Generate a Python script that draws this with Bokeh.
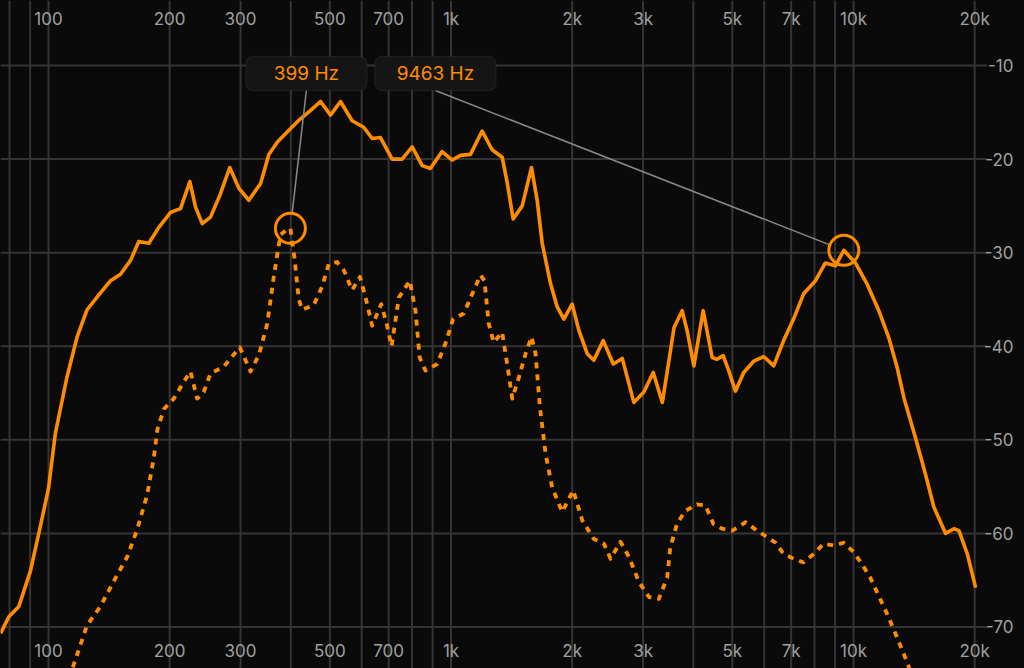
import numpy as np
from bokeh.plotting import figure
from bokeh.models import Range1d, BoxAnnotation
from bokeh.core.properties import value
from bokeh.embed import file_html
from bokeh.resources import INLINE

# ---------------- data ----------------
solid_freq = [76, 79.7, 84.4, 90.2, 95.5, 100, 104, 111, 117.8, 124.7, 134.6, 142.6, 151, 160,
              167.6, 177.5, 188, 201, 212.8, 224.5, 231.8, 241, 252.6, 267.5, 282, 297, 314.6,
              336.5, 352.7, 370, 391.7, 420, 448, 474, 502, 531.5, 568, 607, 637, 668, 714, 756,
              801, 848, 889, 950, 1007, 1056, 1118, 1195, 1265, 1340, 1379, 1427, 1503, 1585,
              1637, 1685, 1767, 1836, 1907, 2000, 2078, 2180, 2264, 2389, 2530, 2664, 2846, 3014,
              3180, 3350, 3480, 3582, 3753, 3863, 4012, 4231, 4455, 4583, 4744, 4898, 5090, 5336,
              5650, 5983, 6336, 6703, 7098, 7516, 8046, 8511, 9015, 9463, 10110, 10820, 11560,
              12240, 12840, 13340, 14260, 15100, 15840, 16940, 17760, 18280, 19180, 20110]
solid_db = [-70.7, -68.9, -67.8, -64.0, -59.2, -55.2, -49.3, -43.4, -39.0, -36.1, -34.3, -33.0,
            -32.3, -30.8, -28.8, -29.0, -27.3, -25.7, -25.3, -22.4, -25.1, -26.9, -26.2, -23.7,
            -20.9, -23.1, -24.4, -22.6, -19.5, -18.2, -17.1, -15.8, -14.8, -13.85, -15.3, -13.85,
            -15.9, -16.6, -17.8, -17.7, -20.0, -20.0, -18.7, -20.7, -21.0, -19.2, -20.1, -19.6,
            -19.5, -17.0, -19.0, -19.8, -22.5, -26.4, -25.0, -20.9, -24.4, -29.0, -33.3, -35.8,
            -37.1, -35.5, -38.3, -40.8, -41.5, -39.4, -41.9, -41.3, -46.0, -44.9, -42.8, -46.0,
            -41.5, -38.0, -36.2, -38.4, -42.1, -36.2, -41.2, -41.4, -41.0, -42.6, -44.8, -42.8,
            -41.6, -41.1, -42.1, -39.4, -37.1, -34.4, -33.0, -31.1, -31.4, -29.75, -31.1, -33.4,
            -36.2, -39.1, -42.3, -45.5, -49.8, -53.7, -57.2, -60.0, -59.5, -59.7, -62.2, -65.8]

dotted_freq = [112, 115.6, 124.7, 134.6, 145.3, 156.9, 166, 175.8, 182.7, 186.4, 193.6, 204.8,
               216.8, 225.3, 234, 243, 252.6, 272.4, 298.7, 317.6, 333.5, 349.5, 363, 377, 392,
               399, 408.5, 418.6, 427, 456, 478.6, 497, 521, 542, 568, 594, 613.5, 637, 671, 692,
               712, 742, 790, 816, 836, 864, 924, 969, 1012, 1076, 1140, 1184, 1211, 1241, 1277,
               1340, 1379, 1420, 1475, 1532, 1585, 1622, 1663, 1718, 1784, 1889, 2012, 2119,
               2264, 2399, 2491, 2637, 2767, 2931, 3104, 3284, 3445, 3506, 3642, 3817, 4082,
               4286, 4488, 4718, 4999, 5396, 5758, 6102, 6404, 6703, 7098, 7516, 7960, 8430,
               8927, 9453, 10010, 10500, 11000, 11560, 12120, 12710, 13340, 13730, 14200]
dotted_db = [-75.5, -74.0, -69.8, -67.8, -65.1, -62.5, -59.6, -55.9, -51.9, -48.9, -46.7, -45.6,
             -43.8, -42.7, -45.6, -44.9, -42.9, -42.2, -40.1, -42.7, -40.9, -37.6, -32.5, -28.1,
             -27.5, -27.4, -30.6, -35.0, -36.1, -35.6, -33.6, -31.2, -31.0, -31.9, -34.0, -32.6,
             -34.8, -37.8, -35.5, -37.6, -40.0, -34.8, -33.0, -36.2, -41.2, -42.6, -41.9, -39.7,
             -37.1, -36.5, -34.0, -32.4, -33.0, -37.6, -39.6, -38.5, -41.9, -45.6, -43.3, -40.8,
             -39.0, -40.8, -46.5, -51.5, -55.1, -57.7, -55.4, -58.6, -60.6, -61.1, -62.7, -60.9,
             -62.5, -65.2, -66.8, -67.0, -64.7, -61.5, -59.0, -57.6, -56.9, -57.0, -59.0, -59.5,
             -59.7, -58.8, -59.7, -60.4, -61.0, -62.2, -62.7, -63.1, -62.2, -61.1, -61.3, -61.0,
             -62.0, -63.3, -64.7, -66.7, -68.6, -70.7, -72.9, -74.3, -75.8]

peak_freq = [399, 9463]
peak_db = [-27.4, -29.75]
peak_label = ["399 Hz", "9463 Hz"]

x_tick_vals = [100, 200, 300, 500, 700, 1000, 2000, 3000, 5000, 7000, 10000, 20000]
x_tick_labels = ["100", "200", "300", "500", "700", "1k", "2k", "3k", "5k", "7k", "10k", "20k"]
x_grid_vals = [80, 90, 100, 200, 300, 400, 500, 600, 700, 800, 900, 1000, 2000, 3000, 4000,
               5000, 6000, 7000, 8000, 9000, 10000, 20000]
y_tick_vals = [-10, -20, -30, -40, -50, -60, -70]
y_tick_labels = ["-10", "-20", "-30", "-40", "-50", "-60", "-70"]

# ---------------- styling / layout ----------------
BG = "#0a0a0a"
ORANGE = "#ff8c00"
GRID = "#343434"
LABEL = "#a0a0a0"
FONT = "Inter"

W, H = 1024, 668
OFF = 0          # page offset of the plot (bokeh's page template has no body margin)
PX_DEC = 402.5   # pixels per decade
PX_DB = 9.358    # pixels per dB


def f_at(X):
    return 10 ** (2 + (X - 48) / PX_DEC)


def db_at(Y):
    return -10 - (Y - 65) / PX_DB


def X_of(f):
    return 48 + PX_DEC * (np.log10(f) - 2)


def Y_of(db):
    return 65 + PX_DB * (-10 - db)


x0, x1 = f_at(OFF), f_at(OFF + W)
y0, y1 = db_at(OFF + H), db_at(OFF)

p = figure(width=W, height=H, x_axis_type="log",
           x_range=Range1d(x0, x1), y_range=Range1d(y0, y1),
           output_backend="svg", toolbar_location=None,
           x_axis_location=None, y_axis_location=None, min_border=0,
           background_fill_color=BG, border_fill_color=BG, outline_line_color=None)
p.xgrid.visible = False
p.ygrid.visible = False

# grid
p.segment(x0=x_grid_vals, y0=[y0] * len(x_grid_vals), x1=x_grid_vals, y1=[y1] * len(x_grid_vals),
          line_color=GRID, line_width=2)
p.segment(x0=[x0] * len(y_tick_vals), y0=y_tick_vals, x1=[f_at(987)] * len(y_tick_vals),
          y1=y_tick_vals, line_color=GRID, line_width=2)

# series
p.line(solid_freq, solid_db, line_color=ORANGE, line_width=3.6, line_join="round")
p.line(dotted_freq, dotted_db, line_color=ORANGE, line_width=3.8, line_dash="6 6",
       line_cap="butt", line_join="round")

# callouts
BOX_W, BOX_H, BOX_TOP, GAP = 121, 34, 56, 8
R = 15
box1_cx = X_of(peak_freq[0]) + 16
box_cx = [box1_cx, box1_cx + BOX_W + GAP]
for i in range(2):
    px, py = X_of(peak_freq[i]), Y_of(peak_db[i])
    sx, sy = box_cx[i], BOX_TOP + BOX_H
    d = np.hypot(sx - px, sy - py)
    ex, ey = px + (sx - px) / d * R, py + (sy - py) / d * R
    p.line([f_at(sx), f_at(ex)], [db_at(sy), db_at(ey)], line_color="#8a8a8a", line_width=1.5)

p.scatter(peak_freq, peak_db, marker="circle", size=2 * R, fill_alpha=0,
          line_color=ORANGE, line_width=3)

for i in range(2):
    p.add_layout(BoxAnnotation(left=f_at(box_cx[i] - BOX_W / 2), right=f_at(box_cx[i] + BOX_W / 2),
                               top=db_at(BOX_TOP), bottom=db_at(BOX_TOP + BOX_H),
                               fill_color="#151515", fill_alpha=1, line_color="#3c3c3c",
                               line_width=1.5, border_radius=7))

t = p.text(x=[f_at(c) for c in box_cx], y=[db_at(BOX_TOP + BOX_H / 2)] * 2, text=peak_label,
           text_color=ORANGE, text_font=value(FONT), text_font_size="19px",
           text_align="center", text_baseline="middle")
t.level = "overlay"

# tick labels
for yy in (18, 650):
    p.text(x=x_tick_vals, y=[db_at(yy)] * len(x_tick_vals), text=x_tick_labels, text_color=LABEL,
           text_font=value(FONT), text_font_size="17px", text_align="center",
           text_baseline="middle")
p.text(x=[f_at(1013)] * len(y_tick_vals), y=y_tick_vals, text=y_tick_labels, text_color=LABEL,
       text_font=value(FONT), text_font_size="17px", text_align="right", text_baseline="middle")

html = file_html(p, INLINE, title="Spectrum")
html = html.replace("<body>", '<body style="background-color:#0a0a0a;">')
open("out.html", "w").write(html)
